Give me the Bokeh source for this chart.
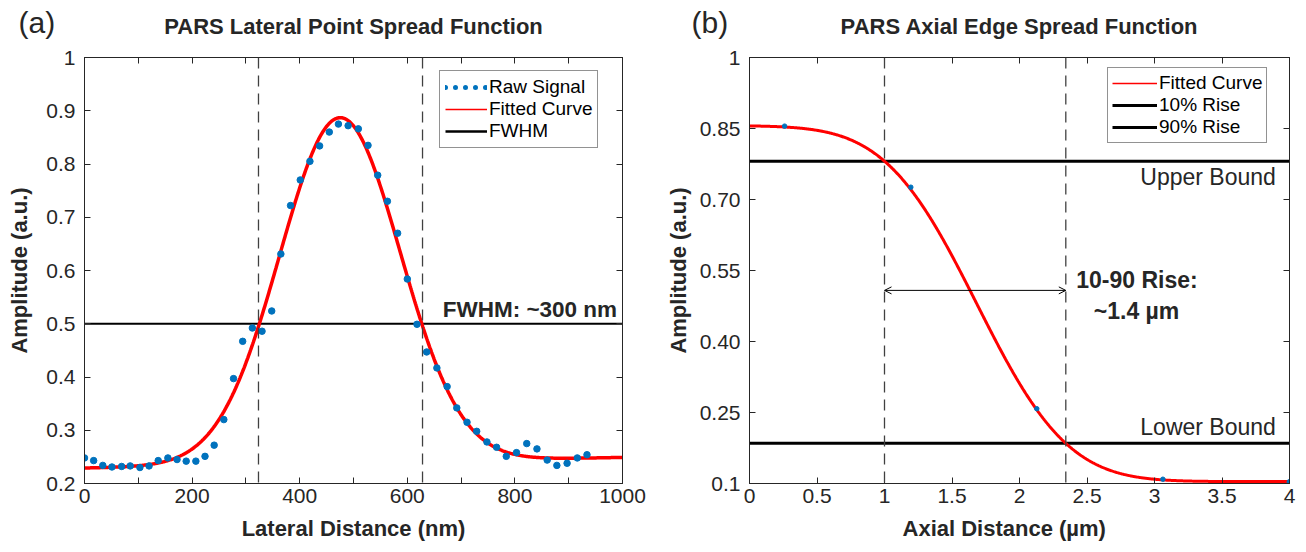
import math
import numpy as np
from bokeh.plotting import figure
from bokeh.layouts import row, column
from bokeh.models import (ColumnDataSource, Legend, LegendItem, Label, Span, Arrow, OpenHead,
                          FixedTicker, LinearAxis, Range1d)
from bokeh.embed import file_html
from bokeh.resources import INLINE
from bokeh.core.properties import value

FONT = "Liberation Sans"
AXC = "#262626"
BLUE = "#0072BD"

# ---------------- Panel (a) data ----------------
lat_x = [0, 17, 34, 51, 69, 85, 103, 120, 137, 155, 172, 189, 207, 224, 241, 259, 277, 294, 312, 330, 348,
         365, 383, 401, 419, 437, 455, 472, 490, 509, 527, 545,
         563, 582, 600, 618,
         636, 655, 674, 692, 711, 729, 748, 766, 784, 803, 822, 841, 860, 878, 897, 916, 934]
lat_y = [0.248, 0.243, 0.234, 0.231, 0.232, 0.233, 0.230, 0.233, 0.243, 0.248, 0.245, 0.242, 0.242, 0.251,
         0.272, 0.320, 0.397, 0.467, 0.492, 0.486, 0.524,
         0.631, 0.722, 0.770, 0.805, 0.834, 0.860, 0.875, 0.872, 0.866, 0.835, 0.779,
         0.730, 0.670, 0.584, 0.499,
         0.447, 0.417, 0.382, 0.342, 0.315, 0.298, 0.278, 0.268, 0.251, 0.258, 0.275, 0.265, 0.244, 0.234,
         0.238, 0.248, 0.254]
# Gaussian fit parameters
lat_center = 475.0
lat_sigma = 112.0
lat_peak = 0.887
lat_bg_start = 0.229   # background at 0 nm
lat_bg_end = 0.249     # background at 1000 nm
fwhm_level = 0.5
fwhm_left = 323.4
fwhm_right = 628.3
lat_xticks = [0, 100, 200, 300, 400, 500, 600, 700, 800, 900, 1000]
lat_xlabels = ["0", "", "200", "", "400", "", "600", "", "800", "", "1000"]
lat_yticks = [0.2, 0.3, 0.4, 0.5, 0.6, 0.7, 0.8, 0.9, 1.0]
lat_ylabels = ["0.2", "0.3", "0.4", "0.5", "0.6", "0.7", "0.8", "0.9", "1"]

# ---------------- Panel (b) data ----------------
esf_x = [0.26, 1.195, 2.128, 3.062, 3.998]
esf_y = [0.855, 0.726, 0.258, 0.109, 0.1035]
# error-function edge fit parameters
esf_top = 0.856
esf_base = 0.104
esf_mid = 1.683
esf_sigma = 0.5325
upper_bound = 0.781
lower_bound = 0.185
rise_start = 1.0
rise_end = 2.343
rise_arrow_y = 0.508
ax_xticks = [0, 0.5, 1, 1.5, 2, 2.5, 3, 3.5, 4]
ax_xlabels = ["0", "0.5", "1", "1.5", "2", "2.5", "3", "3.5", "4"]
ax_yticks = [0.1, 0.25, 0.4, 0.55, 0.7, 0.85, 1.0]
ax_ylabels = ["0.1", "0.25", "0.40", "0.55", "0.70", "0.85", "1"]

titles = ["PARS Lateral Point Spread Function", "PARS Axial Edge Spread Function"]
panel_tags = ["(a)", "(b)"]

HEADER_H = 44
NBSP = "\u00a0"


def style_axes(p, xticks, xlabels, yticks, ylabels, xlabel, ylabel, ylab_standoff):
    p.outline_line_color = AXC
    p.outline_line_width = 1
    p.xgrid.visible = False
    p.ygrid.visible = False
    p.background_fill_color = "white"
    p.border_fill_color = "white"
    for ax, ticks, labels, lab in ((p.xaxis[0], xticks, xlabels, xlabel), (p.yaxis[0], yticks, ylabels, ylabel)):
        ax.ticker = FixedTicker(ticks=ticks)
        ax.major_label_overrides = {t: l for t, l in zip(ticks, labels)}
        ax.major_tick_in = 6
        ax.major_tick_out = 0
        ax.minor_tick_line_color = None
        ax.axis_line_color = AXC
        ax.major_tick_line_color = AXC
        ax.major_label_text_font = FONT
        ax.major_label_text_font_size = "21px"
        ax.major_label_text_color = AXC
        ax.axis_label = lab
        ax.axis_label_text_font = FONT
        ax.axis_label_text_font_size = "22px"
        ax.axis_label_text_font_style = "bold"
        ax.axis_label_text_color = AXC
    p.xaxis[0].major_label_standoff = 5
    p.xaxis[0].axis_label_standoff = 10
    p.yaxis[0].major_label_standoff = 9
    p.yaxis[0].axis_label_standoff = ylab_standoff
    top = LinearAxis(ticker=FixedTicker(ticks=xticks), major_tick_in=6, major_tick_out=0,
                     major_label_overrides={t: "" for t in xticks}, major_label_standoff=0,
                     major_label_text_font_size="1px", minor_tick_line_color=None,
                     axis_line_color=AXC, major_tick_line_color=AXC)
    right = LinearAxis(ticker=FixedTicker(ticks=yticks), major_tick_in=6, major_tick_out=0,
                       major_label_overrides={t: "" for t in yticks}, major_label_standoff=0,
                       major_label_text_font_size="1px", minor_tick_line_color=None,
                       axis_line_color=AXC, major_tick_line_color=AXC)
    p.add_layout(top, "above")
    p.add_layout(right, "right")


def legend_stub(p, **kw):
    # off-range stub line, used only to draw a legend glyph
    src = ColumnDataSource(data=dict(x=[-1e6, -1e6 + 1], y=[-1e6, -1e6]))
    return p.line("x", "y", source=src, **kw)


# ================= Header (panel tags and titles) =================
hdr = figure(width=1298, height=HEADER_H, x_range=Range1d(0, 1298), y_range=Range1d(HEADER_H, 0),
             output_backend="svg", toolbar_location=None, title=None,
             x_axis_location=None, y_axis_location=None, min_border=0)
hdr.outline_line_color = None
hdr.xgrid.visible = False
hdr.ygrid.visible = False
hdr.text(x=[18, 691], y=[22, 22], text=panel_tags, text_align="left", text_baseline="middle",
         text_font=value(FONT), text_font_size="30px", text_color=AXC)
hdr.text(x=[353, 1019], y=[25.5, 25.5], text=titles, text_align="center", text_baseline="middle",
         text_font=value(FONT), text_font_size="22px", text_font_style="bold", text_color=AXC)

# ================= Panel (a) =================
p1 = figure(width=658, height=505, x_range=Range1d(0, 1000), y_range=Range1d(0.2, 1.0),
            output_backend="svg", toolbar_location=None, title=None,
            min_border_left=84, min_border_right=36, min_border_top=57 - HEADER_H, min_border_bottom=66)
style_axes(p1, lat_xticks, lat_xlabels, lat_yticks, lat_ylabels, "Lateral Distance (nm)", "Amplitude (a.u.)", 11)

fx = np.linspace(0, 1000, 801)
bg = lat_bg_start + (lat_bg_end - lat_bg_start) * fx / 1000.0
amp = lat_peak - (lat_bg_start + (lat_bg_end - lat_bg_start) * lat_center / 1000.0)
fy = bg + amp * np.exp(-((fx - lat_center) ** 2) / (2 * lat_sigma ** 2))

p1.add_layout(Span(location=fwhm_left, dimension="height", line_color="#404040", line_width=1.3, line_dash="11 7"))
p1.add_layout(Span(location=fwhm_right, dimension="height", line_color="#404040", line_width=1.3, line_dash="11 7"))
p1.line([0, 1000], [fwhm_level, fwhm_level], line_color="black", line_width=2.2)
p1.line(fx, fy, line_color="red", line_width=3.5)
p1.scatter(lat_x, lat_y, size=6.5, fill_color=BLUE, line_color=BLUE)

lg_raw = legend_stub(p1, line_color=BLUE, line_width=5, line_dash="0 10", line_cap="round")
lg_fit = legend_stub(p1, line_color="red", line_width=1.5)
lg_fwhm = legend_stub(p1, line_color="black", line_width=2.5)
leg1 = Legend(items=[LegendItem(label="Raw Signal", renderers=[lg_raw]),
                     LegendItem(label="Fitted Curve", renderers=[lg_fit]),
                     LegendItem(label="FWHM", renderers=[lg_fwhm])],
              location=(355, 335), glyph_width=42, glyph_height=20, label_height=22,
              label_standoff=2, spacing=0, padding=5, margin=0,
              label_text_font=FONT, label_text_font_size="19px", label_text_color="black",
              border_line_color=AXC, border_line_width=1, background_fill_alpha=1.0)
p1.add_layout(leg1)

p1.add_layout(Label(x=990, y=0.527, text="FWHM: ~300 nm", text_align="right", text_baseline="alphabetic",
                    text_font=FONT, text_font_size="22.5px", text_font_style="bold", text_color=AXC))

# ================= Panel (b) =================
p2 = figure(width=640, height=505, x_range=Range1d(0, 4), y_range=Range1d(0.1, 1.0),
            output_backend="svg", toolbar_location=None, title=None,
            min_border_left=91, min_border_right=9, min_border_top=57 - HEADER_H, min_border_bottom=66)
style_axes(p2, ax_xticks, ax_xlabels, ax_yticks, ax_ylabels, "Axial Distance (µm)" + NBSP * 5,
           "Amplitude (a.u.)", 6)

ex = np.linspace(0, 4, 801)
ey = np.array([esf_base + (esf_top - esf_base) * 0.5 * math.erfc((v - esf_mid) / (esf_sigma * math.sqrt(2)))
               for v in ex])

p2.add_layout(Span(location=rise_start, dimension="height", line_color="#404040", line_width=1.3, line_dash="11 7"))
p2.add_layout(Span(location=rise_end, dimension="height", line_color="#404040", line_width=1.3, line_dash="11 7"))
p2.line([0, 4], [upper_bound, upper_bound], line_color="black", line_width=3)
p2.line([0, 4], [lower_bound, lower_bound], line_color="black", line_width=3)
p2.line(ex, ey, line_color="red", line_width=3)
p2.scatter(esf_x, esf_y, size=4.5, fill_color=BLUE, line_color=BLUE)
p2.add_layout(Arrow(x_start=rise_start, y_start=rise_arrow_y, x_end=rise_end, y_end=rise_arrow_y, line_width=1,
                    line_color="black",
                    start=OpenHead(size=7, line_width=1, line_color="black"),
                    end=OpenHead(size=7, line_width=1, line_color="black")))

lg2_fit = legend_stub(p2, line_color="red", line_width=1.5)
lg2_10 = legend_stub(p2, line_color="black", line_width=3)
lg2_90 = legend_stub(p2, line_color="black", line_width=3)
leg2 = Legend(items=[LegendItem(label="Fitted Curve", renderers=[lg2_fit]),
                     LegendItem(label="10% Rise", renderers=[lg2_10]),
                     LegendItem(label="90% Rise", renderers=[lg2_90])],
              location=(358, 340), glyph_width=45, glyph_height=20, label_height=21,
              label_standoff=2, spacing=0, padding=4, margin=0,
              label_text_font=FONT, label_text_font_size="19px", label_text_color="black",
              border_line_color=AXC, border_line_width=1, background_fill_alpha=1.0)
p2.add_layout(leg2)

p2.add_layout(Label(x=3.899, y=0.7476, text="Upper Bound", text_align="right", text_baseline="alphabetic",
                    text_font=FONT, text_font_size="23px", text_color=AXC))
p2.add_layout(Label(x=3.899, y=0.2198, text="Lower Bound", text_align="right", text_baseline="alphabetic",
                    text_font=FONT, text_font_size="23px", text_color=AXC))
p2.add_layout(Label(x=2.87, y=0.5306, text="10-90 Rise:", text_align="center", text_baseline="alphabetic",
                    text_font=FONT, text_font_size="23px", text_font_style="bold", text_color=AXC))
p2.add_layout(Label(x=2.867, y=0.4638, text="~1.4 µm", text_align="center", text_baseline="alphabetic",
                    text_font=FONT, text_font_size="23px", text_font_style="bold", text_color=AXC))

layout = column(hdr, row(p1, p2))
open("out.html", "w").write(file_html(layout, INLINE))
